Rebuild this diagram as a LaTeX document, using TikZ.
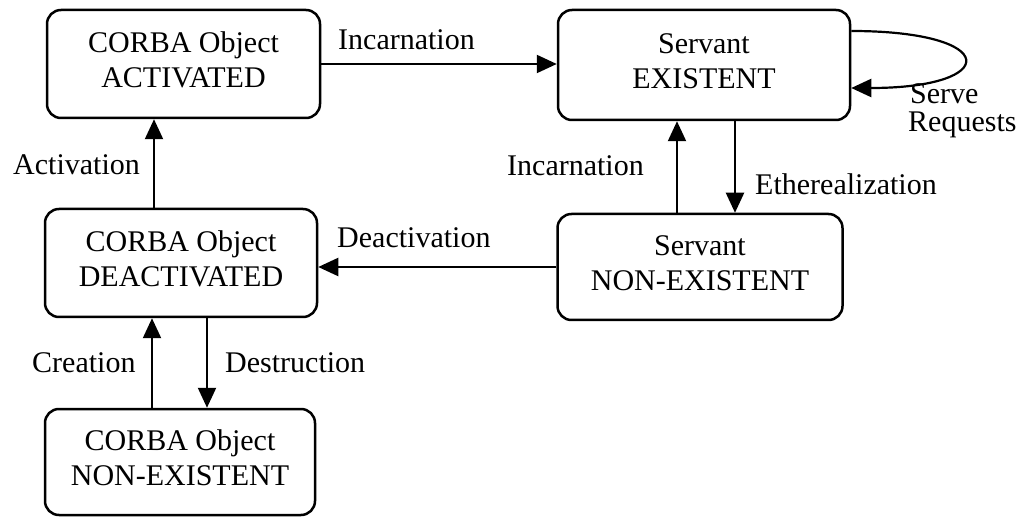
\documentclass[tikz,border=0pt]{standalone}
\usepackage{fontspec}
\setmainfont{Liberation Serif}
\usetikzlibrary{arrows.meta}
\begin{document}
\begin{tikzpicture}[x=1pt,y=-1pt,
  state/.style={draw, line width=2.5pt, rounded corners=14pt, align=center,
    inner sep=0pt, text depth=8pt, font=\fontsize{30}{35}\selectfont},
  trans/.style={draw, line width=2.2pt, -{Triangle[length=20pt,width=18pt]}},
  lbl/.style={font=\fontsize{30}{35}\selectfont, inner sep=0pt, anchor=base west}]
\useasboundingbox (0,0) rectangle (1033,518);

% states
\node[state, minimum width=273pt, minimum height=108pt] (actv) at (183.5,64) {CORBA Object\\ACTIVATED};
\node[state, minimum width=292pt, minimum height=110pt] (svex) at (704,65) {Servant\\EXISTENT};
\node[state, minimum width=272pt, minimum height=108pt] (deac) at (181,263) {CORBA Object\\DEACTIVATED};
\node[state, minimum width=285pt, minimum height=106pt] (svnx) at (700,267) {Servant\\NON-EXISTENT};
\node[state, minimum width=270pt, minimum height=106pt] (cnx) at (180,462) {CORBA Object\\NON-EXISTENT};

% transitions
\draw[trans] (actv.east) -- (actv.east -| svex.west);
\coordinate (actUp) at ([xshift=-27pt]deac.north);
\draw[trans] (actUp) -- (actUp |- actv.south);
\coordinate (incUp) at ([xshift=-23pt]svnx.north);
\draw[trans] (incUp) -- (incUp |- svex.south);
\coordinate (ethDn) at ([xshift=31pt]svex.south);
\draw[trans] (ethDn) -- (ethDn |- svnx.north);
\draw[trans] (svnx.west) -- (svnx.west -| deac.east);
\coordinate (desDn) at ([xshift=26pt]deac.south);
\draw[trans] (desDn) -- (desDn |- cnx.north);
\coordinate (creUp) at ([xshift=-28pt]cnx.north);
\draw[trans] (creUp) -- (creUp |- deac.south);

% self loop on the existent servant
\coordinate (loopOut) at ([yshift=34pt]svex.east);
\coordinate (loopIn) at ([yshift=-23pt]svex.east);
\draw[trans] (loopOut) .. controls +(150,0) and +(150,0) .. (loopIn);

% transition labels
\node[lbl] (lInc1) at (338,50) {Incarnation};
\node[lbl] (lAct) at (13,175) {Activation};
\node[lbl] (lInc2) at (507,176) {Incarnation};
\node[lbl] (lEth) at (755,195) {Etherealization};
\node[lbl] (lSrv1) at (910,104) {Serve};
\node[lbl] (lSrv2) at (908,132) {Requests};
\node[lbl] (lDea) at (337,248) {Deactivation};
\node[lbl] (lCre) at (32,373) {Creation};
\node[lbl] (lDes) at (225,373) {Destruction};
\end{tikzpicture}
\end{document}
